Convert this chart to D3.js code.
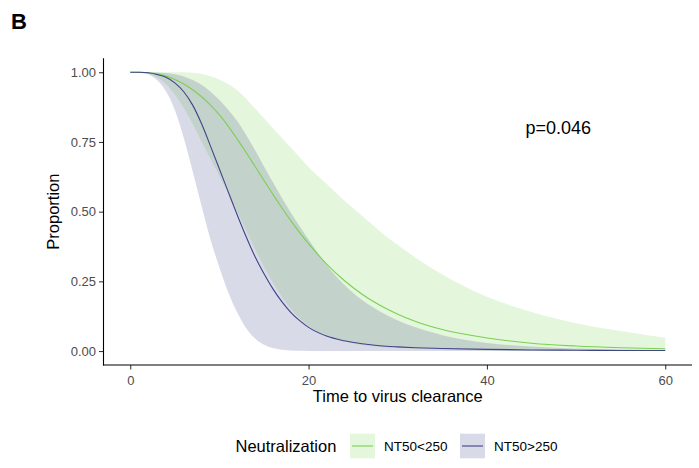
<!DOCTYPE html>
<html>
<head>
<meta charset="utf-8">
<script src="https://cdn.jsdelivr.net/npm/d3@7"></script>
<style>
  html, body { margin: 0; padding: 0; background: #ffffff; }
  svg { display: block; font-family: "Liberation Sans", Arial, Helvetica, sans-serif; }
</style>
</head>
<body>
<svg id="chart" width="699" height="468"></svg>
<script>
// ---- data ----
const panelLabel = "B";
const xTitle = "Time to virus clearance";
const yTitle = "Proportion";
const legendTitle = "Neutralization";
const groups = ["NT50<250", "NT50>250"];
const groupColors = ["#7AD151", "#414487"];
const pLabel = "p=0.046";
const pPos = [48, 0.80];

const xTicks = [0, 20, 40, 60];
const yTicks = [0, 0.25, 0.5, 0.75, 1];

const time = [0, 1, 2, 3, 4, 5, 6, 7, 8, 9, 10, 11, 12, 13, 14, 15, 16, 17, 18, 19, 20,
              22, 24, 26, 28, 30, 32, 35, 40, 45, 50, 55, 60];

// NT50<250
const lowSurv  = [1, 0.9995, 0.998, 0.994, 0.986, 0.974, 0.958, 0.937, 0.912, 0.882, 0.847, 0.806, 0.76, 0.712, 0.662, 0.612, 0.562, 0.514, 0.468, 0.425, 0.385,
                  0.313, 0.253, 0.204, 0.164, 0.132, 0.106, 0.077, 0.047, 0.028, 0.018, 0.012, 0.008];
const lowUpper = [1, 1, 1, 1, 1, 1, 1, 0.998, 0.994, 0.986, 0.974, 0.957, 0.935, 0.905, 0.87, 0.835, 0.80, 0.765, 0.73, 0.695, 0.66,
                  0.60, 0.54, 0.485, 0.43, 0.38, 0.335, 0.275, 0.195, 0.14, 0.10, 0.072, 0.048];
const lowLower = [1, 0.999, 0.995, 0.982, 0.958, 0.92, 0.872, 0.815, 0.752, 0.69, 0.628, 0.565, 0.50, 0.432, 0.365, 0.302, 0.246, 0.195, 0.152, 0.117, 0.09,
                  0.055, 0.034, 0.022, 0.015, 0.011, 0.008, 0.006, 0.003, 0.002, 0.002, 0.001, 0.001];

// NT50>250
const highSurv  = [1, 0.9997, 0.998, 0.992, 0.982, 0.962, 0.93, 0.882, 0.815, 0.735, 0.653, 0.57, 0.488, 0.41, 0.338, 0.277, 0.223, 0.177, 0.139, 0.109, 0.085,
                   0.054, 0.037, 0.026, 0.019, 0.015, 0.012, 0.009, 0.006, 0.004, 0.003, 0.002, 0.002];
const highUpper = [1, 1, 1, 0.999, 0.997, 0.993, 0.985, 0.972, 0.955, 0.93, 0.90, 0.865, 0.825, 0.775, 0.72, 0.662, 0.605, 0.55, 0.497, 0.448, 0.40,
                   0.31, 0.238, 0.183, 0.142, 0.11, 0.085, 0.057, 0.029, 0.016, 0.009, 0.006, 0.004];
const highLower = [1, 0.999, 0.993, 0.972, 0.932, 0.865, 0.765, 0.645, 0.52, 0.40, 0.30, 0.21, 0.138, 0.082, 0.045, 0.023, 0.011, 0.005, 0.002, 0.001, 0.0005,
                   0, 0, 0, 0, 0, 0, 0, 0, 0, 0, 0, 0];

const seriesList = [
  { name: groups[0], color: groupColors[0], surv: lowSurv, upper: lowUpper, lower: lowLower },
  { name: groups[1], color: groupColors[1], surv: highSurv, upper: highUpper, lower: highLower }
];

// ---- layout ----
const svg = d3.select("#chart");
const pLeft = 103.5, pRight = 692, pTop = 58.3, pBottom = 365;

const x = d3.scaleLinear().domain([-3, 63]).range([pLeft, pRight]);
const y = d3.scaleLinear().domain([-0.05, 1.05]).range([pBottom, pTop]);

// ribbons
const area = d3.area()
  .x(d => x(d.t)).y0(d => y(d.lo)).y1(d => y(d.hi))
  .curve(d3.curveMonotoneX);
const line = d3.line()
  .x(d => x(d.t)).y(d => y(d.s))
  .curve(d3.curveMonotoneX);

seriesList.forEach(s => {
  const pts = time.map((t, i) => ({ t, lo: s.lower[i], hi: s.upper[i] }));
  svg.append("path").datum(pts)
    .attr("d", area)
    .attr("fill", s.color)
    .attr("fill-opacity", 0.2)
    .attr("stroke", "none");
});
seriesList.forEach(s => {
  const pts = time.map((t, i) => ({ t, s: s.surv[i] }));
  svg.append("path").datum(pts)
    .attr("d", line)
    .attr("fill", "none")
    .attr("stroke", s.color)
    .attr("stroke-width", 1.1);
});

// axes
const xAxis = svg.append("g").attr("transform", `translate(0,${pBottom})`)
  .call(d3.axisBottom(x).tickValues(xTicks).tickSize(4.5).tickPadding(3).tickFormat(d3.format("d")));
const yAxis = svg.append("g").attr("transform", `translate(${pLeft},0)`)
  .call(d3.axisLeft(y).tickValues(yTicks).tickSize(4.5).tickPadding(3).tickFormat(d3.format(".2f")));

[xAxis, yAxis].forEach(g => {
  g.select(".domain").remove();
  g.selectAll(".tick line").attr("stroke", "#333333").attr("stroke-width", 1.05);
  g.selectAll(".tick text")
    .attr("fill", "#4D4D4D")
    .style("font-size", "13px")
    .style("font-family", "'Liberation Sans', Arial, sans-serif");
});
xAxis.selectAll(".tick text").attr("dy", "0.95em");

// axis lines
svg.append("line").attr("x1", pLeft).attr("x2", pLeft).attr("y1", pTop).attr("y2", pBottom + 0.5)
  .attr("stroke", "#000").attr("stroke-width", 1.1);
svg.append("line").attr("x1", pLeft - 0.5).attr("x2", pRight).attr("y1", pBottom).attr("y2", pBottom)
  .attr("stroke", "#000").attr("stroke-width", 1.1);

// axis titles
svg.append("text")
  .attr("x", (pLeft + pRight) / 2).attr("y", 402)
  .attr("text-anchor", "middle")
  .style("font-size", "16.5px").attr("fill", "#000")
  .text(xTitle);
svg.append("text")
  .attr("transform", `translate(59,${(pTop + pBottom) / 2}) rotate(-90)`)
  .attr("text-anchor", "middle")
  .style("font-size", "16.5px").attr("fill", "#000")
  .text(yTitle);

// panel label
svg.append("text")
  .attr("x", 11).attr("y", 29.3)
  .style("font-size", "22px").style("font-weight", "bold").attr("fill", "#000")
  .text(panelLabel);

// p-value annotation
svg.append("text")
  .attr("x", x(pPos[0])).attr("y", y(pPos[1]))
  .attr("dy", "0.35em")
  .attr("text-anchor", "middle")
  .style("font-size", "18px").attr("fill", "#000")
  .text(pLabel);

// legend
const leg = svg.append("g");
const legY = 446;
leg.append("text")
  .attr("x", 235.5).attr("y", legY).attr("dy", "0.35em")
  .style("font-size", "16.5px").attr("fill", "#000")
  .text(legendTitle);
const keyX = [350, 460];
seriesList.forEach((s, i) => {
  const kx = keyX[i];
  leg.append("rect")
    .attr("x", kx).attr("y", legY - 12.3).attr("width", 25).attr("height", 24.6)
    .attr("fill", s.color).attr("fill-opacity", 0.2);
  leg.append("line")
    .attr("x1", kx + 2).attr("x2", kx + 23).attr("y1", legY).attr("y2", legY)
    .attr("stroke", s.color).attr("stroke-width", 1.1);
  leg.append("text")
    .attr("x", kx + 34).attr("y", legY).attr("dy", "0.35em")
    .style("font-size", "13.5px").attr("fill", "#000")
    .text(s.name);
});
</script>
</body>
</html>
